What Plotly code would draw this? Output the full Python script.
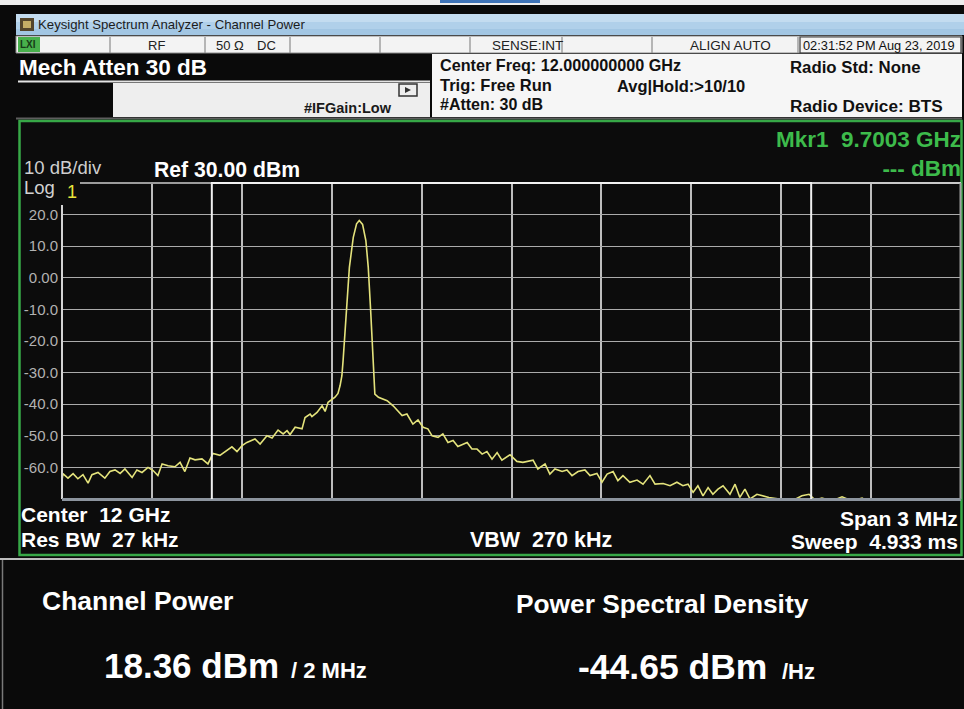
import plotly.graph_objects as go

# ---------------- data ----------------
center_freq_ghz = 12.0
span_mhz = 3.0
ref_level_dbm = 30.0
db_per_div = 10.0
num_divs = 10
channel_bw_khz = 2000.0

freq_offset_khz = [
    -1500, -1497, -1480, -1463, -1447, -1430, -1413, -1400, -1380, -1357,
    -1340, -1323, -1306, -1290, -1266, -1250, -1233, -1213, -1196, -1180,
    -1166, -1146, -1123, -1106, -1090, -1073, -1056, -1033, -1013, -996,
    -973, -949, -933, -916, -899,
    -883, -856, -839, -816, -799, -779, -762, -749, -739, -722,
    -699, -689, -672, -666, -649, -632, -622, -612, -589, -579,
    -572, -566, -562, -552, -541, -528, -517, -508, -497, -486,
    -478, -470, -463, -459, -456, -444, -432, -415, -395, -382,
    -365, -349, -329, -312, -295, -279, -265, -245, -229, -212,
    -195, -179, -148, -132, -115, -98, -82, -65, -48, -32,
    -5, 18, 38, 72, 88, 112, 128, 145, 169, 185,
    202, 222, 245, 262, 285, 302, 319, 339, 355, 372,
    395, 419, 439, 462, 479, 506, 529, 552, 572, 589,
    606, 622, 639, 656, 672, 689, 706, 729, 746, 762,
    779, 796, 819, 859, 903, 936, 969, 993, 1013, 1036,
    1070, 1103, 1136, 1170, 1193, 1230, 1280, 1313, 1363, 1413,
    1463, 1500,
]
level_dbm = [
    -64.2, -62.0, -63.4, -62.0, -63.6, -62.3, -65.0, -62.3, -61.6, -63.4,
    -61.3, -60.8, -61.9, -60.5, -63.2, -60.8, -61.6, -60.0, -61.0, -62.6,
    -58.9, -59.5, -59.8, -58.4, -61.3, -57.0, -57.6, -57.3, -58.9, -55.6,
    -56.2, -54.6, -53.5, -55.0, -53.1,
    -52.1, -51.0, -52.6, -50.0, -50.7, -48.2, -49.4, -48.4, -49.6, -47.3,
    -47.8, -44.2, -43.1, -43.9, -42.6, -40.5, -42.3, -39.4, -37.8, -36.6,
    -34.1, -31.0, -26.2, -10.4, 3.3, 12.8, 17.1, 18.1, 16.9, 11.8,
    3.3, -10.4, -26.2, -34.7, -36.8, -37.8, -38.2, -38.9, -40.5, -42.0,
    -43.6, -43.1, -46.3, -45.0, -47.3, -47.8, -50.0, -50.5, -49.4, -52.1,
    -51.5, -53.4, -52.1, -54.2, -54.2, -55.8, -55.0, -57.4, -55.3, -57.7,
    -56.0, -58.1, -58.4, -57.7, -60.5, -58.9, -62.1, -60.5, -61.3, -60.8,
    -62.6, -61.3, -60.8, -62.6, -61.9, -64.7, -62.1, -61.3, -64.2, -62.6,
    -64.7, -64.0, -65.3, -62.6, -65.3, -65.1, -65.8, -64.7, -65.8, -65.3,
    -67.9, -65.8, -69.0, -66.4, -68.5, -66.9, -65.8, -68.5, -65.3, -69.5,
    -66.9, -70.0, -68.5, -69.5, -70.0, -70.6, -69.0, -68.5, -70.3, -69.7,
    -70.6, -69.3, -70.6, -69.7, -71.0, -70.3, -70.8, -70.2, -70.8, -70.2,
    -70.8, -70.3,
]

y_tick_values = [20, 10, 0, -10, -20, -30, -40, -50, -60]
y_tick_labels = ["20.0", "10.0", "0.00", "-10.0", "-20.0", "-30.0", "-40.0", "-50.0", "-60.0"]
x_grid_values = [-1200, -900, -600, -300, 0, 300, 600, 900, 1200]

# ---------------- helpers (figure pixel -> paper) ----------------
W, H = 964, 709
FONT = "Liberation Sans, Arial, sans-serif"


def PX(x):
    return x / W


def PY(y):
    return 1 - y / H


shapes = []
annotations = []


def rect(x0, y0, x1, y1, fill, line_color=None, lw=0, layer="below"):
    shapes.append(dict(type="rect", xref="paper", yref="paper",
                       x0=PX(x0), x1=PX(x1), y0=PY(y1), y1=PY(y0),
                       fillcolor=fill,
                       line=dict(width=lw, color=line_color or "rgba(0,0,0,0)"),
                       layer=layer))


def hline(x0, x1, y, color, w=1.0, layer="below"):
    shapes.append(dict(type="line", xref="paper", yref="paper",
                       x0=PX(x0), x1=PX(x1), y0=PY(y), y1=PY(y),
                       line=dict(color=color, width=w), layer=layer))


def vline(x, y0, y1, color, w=1.0, layer="below"):
    shapes.append(dict(type="line", xref="paper", yref="paper",
                       x0=PX(x), x1=PX(x), y0=PY(y0), y1=PY(y1),
                       line=dict(color=color, width=w), layer=layer))


def text(x, y, s, size, color, bold=True, anchor="left"):
    annotations.append(dict(x=PX(x), y=PY(y), xref="paper", yref="paper",
                            text=("<b>%s</b>" % s) if bold else s,
                            showarrow=False, xanchor=anchor, yanchor="middle",
                            align=anchor if anchor != "center" else "center",
                            borderpad=0,
                            font=dict(size=size, color=color, family=FONT)))


NB = "\u00a0"

# ---------------- window chrome ----------------
rect(0, 0, 964, 5, "#eeeeee")
rect(440, 0, 540, 3, "#3f74b8")
rect(16, 14, 964, 22, "#c3dcf0")
rect(16, 22, 964, 29, "#b0d0ea")
rect(16, 29, 964, 35, "#a2c6e3")
rect(20, 18, 34, 31, "#55462c")
rect(23, 21, 31, 28, "#c6ae66")
text(37, 24.5, "Keysight Spectrum Analyzer - Channel Power", 13.2, "#1c1c1c", bold=False)

# status row
rect(16, 36, 962, 53, "#f3f3f3", "#8a8a8a", 1)
rect(18, 37, 40, 52, "#48b04c")
text(19, 44.5, "LXI", 10, "#173a17")
for xd in [110, 205, 290, 380, 470, 562, 652, 798]:
    vline(xd, 37, 53, "#8c8c8c", 1.2)
rect(800, 37, 961, 53, "rgba(0,0,0,0)", "#3a3a3a", 1.2)
text(156, 45, "RF", 13, "#222222", bold=False, anchor="center")
text(215, 45, "50 Ω", 13, "#222222", bold=False)
text(256, 45, "DC", 13, "#222222", bold=False)
text(491, 45, "SENSE:INT", 13.5, "#222222", bold=False)
text(730, 45, "ALIGN AUTO", 13.5, "#222222", bold=False, anchor="center")
text(802, 45, "02:31:52 PM Aug 23, 2019", 12.8, "#111111", bold=False)

# second row
rect(432, 54, 962, 117, "#f6f6f6")
rect(113, 83, 430, 117, "#eeeeee")
hline(18, 430, 81.5, "#e4e4e4", 2)
text(18, 68, "Mech Atten 30 dB", 22.5, "#ffffff")
text(303, 108, "#IFGain:Low", 14.5, "#1a1a1a")
rect(399, 84, 417, 96, "rgba(0,0,0,0)", "#333333", 1.5)
shapes.append(dict(type="path", xref="paper", yref="paper",
                   path="M %f %f L %f %f L %f %f Z" % (PX(405), PY(87), PX(405), PY(93), PX(411), PY(90)),
                   fillcolor="#333333", line=dict(width=0), layer="below"))
text(439, 65, "Center Freq: 12.000000000 GHz", 16.2, "#111111")
text(439, 84.5, "Trig: Free Run", 16.5, "#111111")
text(616, 86, "Avg|Hold:>10/10", 16.5, "#111111")
text(439, 104, "#Atten: 30 dB", 16, "#111111")
text(789, 68, "Radio Std: None", 16.8, "#111111")
text(789, 106, "Radio Device: BTS", 17.2, "#111111")
hline(16, 962, 118.5, "#5e5e5e", 2)

# graph panel
rect(19.5, 121, 961.5, 555, "#0c0c0c", "#37a847", 2.5)
text(962, 154, "Mkr1" + NB + NB + "9.7003 GHz<br>--- dBm", 22.5, "#3dbb4b", anchor="right")
text(23, 168, "10 dB/div", 18.5, "#cfcfcf", bold=False)
text(153, 170, "Ref 30.00 dBm", 21.2, "#ffffff")
text(23, 187.5, "Log", 18.5, "#d2d2d2", bold=False)
text(66, 192, "1", 18, "#e8e43c", bold=False)

# plot frame
hline(80, 211, 183, "#9c9c9c", 2, layer="above")
hline(211, 812, 183, "#f2f2f2", 2, layer="above")
hline(812, 961, 183, "#cacaca", 2, layer="above")
vline(62, 205, 499, "#d4d4d4", 2, layer="above")
vline(960.5, 183, 499, "#a0a0a0", 2, layer="above")
hline(62, 961, 499.5, "#8c949e", 3, layer="above")
for sgn in (-1, 1):
    shapes.append(dict(type="line", xref="x", yref="paper",
                       x0=sgn * channel_bw_khz / 2, x1=sgn * channel_bw_khz / 2,
                       y0=PY(499), y1=PY(183),
                       line=dict(color="#f0f0f0", width=2), layer="above"))

text(20, 514, "Center" + NB + NB + "12 GHz", 21, "#ffffff")
text(20, 539, "Res BW" + NB + NB + "27 kHz", 21, "#ffffff")
text(469, 540, "VBW" + NB + NB + "270 kHz", 21.5, "#ffffff")
text(959, 518, "Span 3 MHz", 21, "#ffffff", anchor="right")
text(959, 541, "Sweep" + NB + NB + "4.933 ms", 21, "#ffffff", anchor="right")

# results panel
hline(0, 964, 559, "#bdbdbd", 2)
vline(2.5, 560, 709, "#7a7a7a", 1.5)
text(41, 601, "Channel Power", 26.5, "#ffffff")
text(515, 604, "Power Spectral Density", 26.3, "#ffffff")
text(103, 665, "18.36 dBm", 35, "#ffffff")
text(290, 670, "/ 2 MHz", 22, "#ffffff")
text(577, 667, "-44.65 dBm", 35.5, "#ffffff")
text(781, 671, "/Hz", 22, "#ffffff")

# ---------------- figure ----------------
fig = go.Figure()
fig.add_trace(go.Scatter(x=freq_offset_khz, y=level_dbm, mode="lines",
                         line=dict(color="#e4e37c", width=1.6),
                         hoverinfo="skip", showlegend=False))

half_span_khz = span_mhz * 1000 / 2
fig.update_layout(
    width=W, height=H, autosize=False,
    margin=dict(l=0, r=0, t=0, b=0),
    paper_bgcolor="#0a0a0a",
    plot_bgcolor="rgba(0,0,0,0)",
    shapes=shapes,
    annotations=annotations,
    showlegend=False,
    xaxis=dict(domain=[62 / W, 961 / W],
               range=[-half_span_khz, half_span_khz],
               tickvals=x_grid_values, showticklabels=False, ticks="",
               showgrid=True, gridcolor="#bdbdbd", gridwidth=1.6,
               zeroline=False, showline=False, automargin=False, fixedrange=True),
    yaxis=dict(domain=[(H - 499) / H, (H - 183) / H],
               range=[ref_level_dbm - num_divs * db_per_div, ref_level_dbm],
               tickvals=y_tick_values, ticktext=y_tick_labels, ticks="",
               ticklabelstandoff=3,
               tickfont=dict(size=15, color="#b2b2b2", family=FONT),
               showgrid=True, gridcolor="#ababab", gridwidth=1.4,
               zeroline=False, showline=False, automargin=False, fixedrange=True),
)

fig.write_html("out.html", config={"displayModeBar": False},
               post_script="document.body.style.margin='0px';document.body.style.overflow='hidden';")
